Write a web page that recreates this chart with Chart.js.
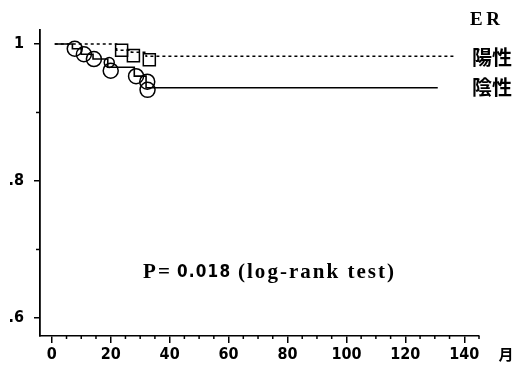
<!DOCTYPE html>
<html><head><meta charset="utf-8">
<script src="https://cdn.jsdelivr.net/npm/chart.js@4/dist/chart.umd.min.js"></script>
<style>html,body{margin:0;padding:0;background:#fff;}#wrap{width:532px;height:371px;}</style>
</head><body><div id="wrap"><canvas id="c" width="532" height="371"></canvas></div>
<script>
// Kaplan-Meier step curves (months, survival)
const posTimes = [1, 22, 27, 32, 137];
const posSurv  = [1.0, 0.991, 0.988, 0.982, 0.982];
const negTimes = [1, 7, 10, 14, 19, 28, 32, 131];
const negSurv  = [1.0, 0.993, 0.985, 0.978, 0.966, 0.953, 0.936, 0.936];
// markers
const posMarkT = [23.7, 27.7, 33.1];
const posMarkS = [0.991, 0.983, 0.977];
const negMarkT = [7.8, 10.9, 14.3, 19.5, 20, 28.6, 32.4, 32.5];
const negMarkS = [0.993, 0.985, 0.978, 0.973, 0.961, 0.953, 0.945, 0.933];
const negMarkR = [7.5, 7.5, 7.5, 5, 7.5, 7.5, 7.5, 7.5];
// ticks
const xMajorTicks = [0, 20, 40, 60, 80, 100, 120, 140];
const xMinorTicks = [5, 10, 15, 25, 30, 35, 45, 50, 55, 65, 70, 75, 85, 90, 95, 105, 110, 115, 125, 130, 135, 145];
const yMajorTicks = [0.6, 0.8, 1.0];
const yTickLabels = ['.6', '.8', '1'];
const yMinorTicks = [0.7, 0.9];
const groupTitle = 'ER';
const seriesNames = ['陽性', '陰性'];
const xUnit = '月';
const pText = [['P=', 'serif'], ['0.018', 'num'], ['(log-rank test)', 'serif']];

const numFont = '"DejaVu Sans Condensed", "Liberation Sans Narrow", sans-serif';
const serifFont = '"Liberation Serif", "DejaVu Serif", serif';
const cjkFont = '"Noto Sans CJK JP", "Noto Sans CJK SC", sans-serif';

const toXY = (ts, ss) => ts.map((t, i) => ({x: t, y: ss[i]}));

function fitText(ctx, text, x, y, width) {
  ctx.letterSpacing = '0px';
  const w = ctx.measureText(text).width;
  const n = text.length;
  const ls = n > 1 ? (width - w) / (n - 1) : 0;
  ctx.letterSpacing = ls.toFixed(2) + 'px';
  ctx.fillText(text, x, y);
  ctx.letterSpacing = '0px';
}

const extras = {
  id: 'extras',
  afterDraw(chart) {
    const ctx = chart.ctx;
    const xs = chart.scales.x, ys = chart.scales.y;
    ctx.save();
    ctx.strokeStyle = '#000';
    ctx.lineWidth = 1.5;
    // minor ticks
    xMinorTicks.forEach(v => {
      const px = xs.getPixelForValue(v);
      ctx.beginPath(); ctx.moveTo(px, xs.top); ctx.lineTo(px, xs.top + 3); ctx.stroke();
    });
    yMinorTicks.forEach(v => {
      const py = ys.getPixelForValue(v);
      ctx.beginPath(); ctx.moveTo(ys.right - 4, py); ctx.lineTo(ys.right, py); ctx.stroke();
    });
    ctx.fillStyle = '#000';
    ctx.textBaseline = 'middle';
    ctx.textAlign = 'left';
    ctx.font = 'bold 19px ' + serifFont;
    fitText(ctx, groupTitle, 470, 20, 30);
    ctx.textAlign = 'center';
    ctx.font = 'bold 20px ' + cjkFont;
    ctx.fillText(seriesNames[0], 492, ys.getPixelForValue(posSurv[posSurv.length - 1]) + 1);
    ctx.fillText(seriesNames[1], 492, ys.getPixelForValue(negSurv[negSurv.length - 1]));
    ctx.font = 'bold 15px ' + cjkFont;
    ctx.fillText(xUnit, 506, 354);
    // P value text
    ctx.textAlign = 'left';
    const starts = [143, 177, 238];
    const widths = [27, 53, 156];
    pText.forEach(([t, kind], i) => {
      ctx.font = kind === 'num' ? 'bold 17px ' + numFont : 'bold 21px ' + serifFont;
      fitText(ctx, t, starts[i], 273, widths[i]);
    });
    ctx.restore();
  }
};

new Chart(document.getElementById('c'), {
  type: 'scatter',
  data: {
    datasets: [
      { label: seriesNames[0], data: toXY(posTimes, posSurv), showLine: true, stepped: true,
        borderColor: '#000', borderWidth: 1.5, borderDash: [3, 3], pointRadius: 0, fill: false },
      { label: seriesNames[1], data: toXY(negTimes, negSurv), showLine: true, stepped: true,
        borderColor: '#000', borderWidth: 1.6, pointRadius: 0, fill: false },
      { label: seriesNames[0] + ' marks', data: toXY(posMarkT, posMarkS), pointStyle: 'rect',
        pointRadius: 8.5, borderColor: '#000', backgroundColor: 'rgba(0,0,0,0)', pointBorderWidth: 1.5 },
      { label: seriesNames[1] + ' marks', data: toXY(negMarkT, negMarkS), pointStyle: 'circle',
        pointRadius: negMarkR, borderColor: '#000', backgroundColor: 'rgba(0,0,0,0)', pointBorderWidth: 1.5 }
    ]
  },
  options: {
    responsive: false, animation: false, devicePixelRatio: 1,
    layout: { padding: { top: 30, right: 53, left: 0, bottom: 0 } },
    plugins: { legend: { display: false }, tooltip: { enabled: false } },
    scales: {
      x: {
        type: 'linear', position: 'bottom', min: -4, max: 145,
        afterBuildTicks: s => { s.ticks = xMajorTicks.map(v => ({ value: v })); },
        afterFit: s => { s.height = 35; },
        grid: { drawOnChartArea: false, drawTicks: true, tickLength: 7, color: '#000', lineWidth: 1.5 },
        border: { display: true, color: '#000', width: 1.5 },
        ticks: { color: '#000', font: { family: numFont, size: 16, weight: 'bold' }, padding: 2,
                 maxRotation: 0, autoSkip: false, callback: v => String(v) }
      },
      y: {
        min: 0.5737, max: 1.0204,
        afterBuildTicks: s => { s.ticks = yMajorTicks.map(v => ({ value: v })); },
        afterFit: s => { s.width = 40; },
        grid: { drawOnChartArea: false, drawTicks: true, tickLength: 6, color: '#000', lineWidth: 1.5 },
        border: { display: true, color: '#000', width: 1.8 },
        ticks: { color: '#000', font: { family: numFont, size: 16, weight: 'bold' }, padding: 10,
                 autoSkip: false,
                 callback: v => { const i = yMajorTicks.findIndex(t => Math.abs(t - v) < 1e-6); return i >= 0 ? yTickLabels[i] : ''; } }
      }
    }
  },
  plugins: [extras]
});
</script></body></html>
